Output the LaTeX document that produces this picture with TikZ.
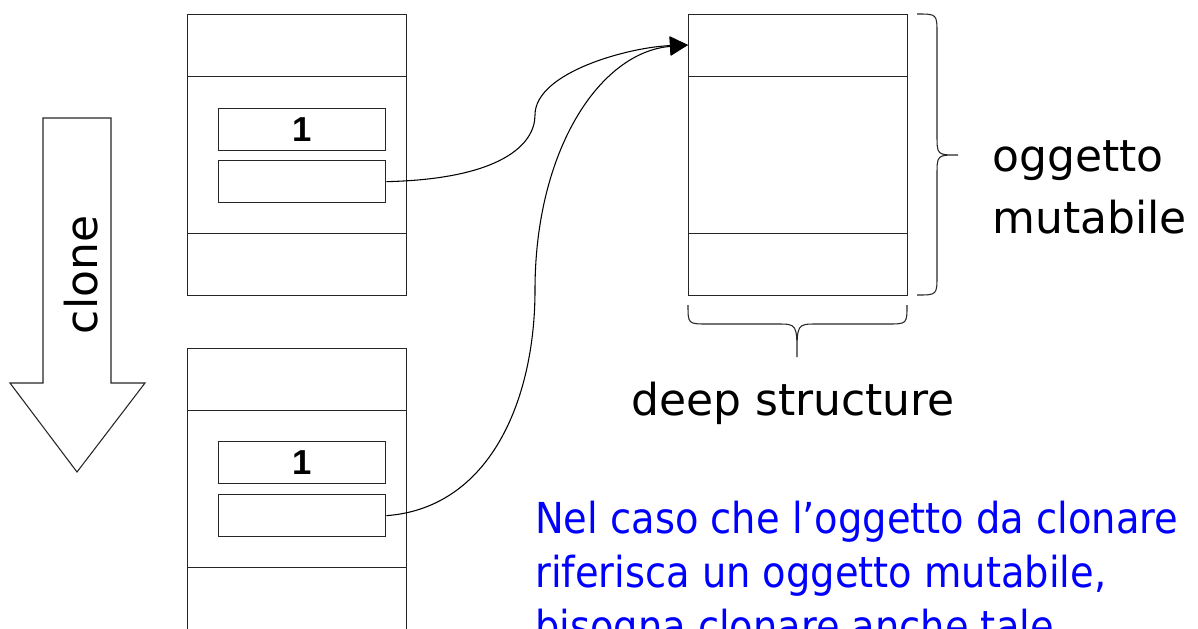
\documentclass[tikz,border=0pt]{standalone}
\usepackage{fontspec}
\setmainfont{DejaVu Sans}
\newfontfamily\notefont{DejaVu Sans Condensed}
\newfontfamily\numfont{Liberation Sans}
\usetikzlibrary{arrows.meta}
\def\px{0.75pt}
\tikzset{
  frame/.style={draw=black!85, line width=1pt, inner sep=0pt, anchor=north west},
  cell/.style={frame, minimum width=219*\px},
  field/.style={frame, minimum width=167*\px, minimum height=42*\px, font=\numfont\fontsize{26}{30}\selectfont\bfseries},
  link/.style={line width=0.8pt, -{Triangle[length=13.5pt,width=14pt]}},
  label/.style={font=\fontsize{33}{38}\selectfont, inner sep=0pt},
  note/.style={font=\notefont\fontsize{32}{40}\selectfont, text=blue, inner sep=0pt, anchor=base west},
  brace/.style={draw=black!85, line width=0.8pt}
}
\begin{document}
\begin{tikzpicture}[x=0.75pt, y=-0.75pt]
\useasboundingbox (0,0) rectangle (1198,628);
\clip (0,0) rectangle (1198,628);

% original object on the stack
\node[cell, minimum height=62*\px]  (a1) at (187,14)  {};
\node[cell, minimum height=157*\px] (a2) at (187,76)  {};
\node[cell, minimum height=62*\px]  (a3) at (187,233) {};
\node[field] (a1v) at (218,108) {1};
\node[field] (a1r) at (218,160) {};

% its clone
\node[cell, minimum height=62*\px]  (b1) at (187,348) {};
\node[cell, minimum height=157*\px] (b2) at (187,410) {};
\node[cell, minimum height=80*\px]  (b3) at (187,567) {};
\node[field] (b1v) at (218,441) {1};
\node[field] (b1r) at (218,494) {};

% referenced mutable object
\node[cell, minimum height=62*\px]  (m1) at (688,14)  {};
\node[cell, minimum height=157*\px] (m2) at (688,76)  {};
\node[cell, minimum height=62*\px]  (m3) at (688,233) {};
\coordinate (tgt) at (688,45);

% shared references
\draw[link] (a1r.east) .. controls (500,179) and (535,145) .. (535,115)
  .. controls (535,72) and (630,47) .. (tgt);
\draw[link] (b1r.east) .. controls (490,508) and (535,400) .. (535,290)
  .. controls (535,150) and (600,52) .. (tgt);

% clone arrow
\draw[draw=black!85, line width=0.8pt, fill=white]
  (43,118) -- (111,118) -- (111,383) -- (145,383) -- (77,472) -- (10,383) -- (43,383) -- cycle;
\node[label, rotate=90, anchor=base] (clonelbl) at (97,275) {clone};

% braces
\draw[brace] (917,14) .. controls (937,14) .. (937,34) -- (937,135)
  .. controls (937,155) .. (958,155) .. controls (937,155) .. (937,175)
  -- (937,275) .. controls (937,295) .. (917,295);
\draw[brace] (688,305) .. controls (688,324) .. (708,324) -- (777,324)
  .. controls (797,324) .. (797,357) .. controls (797,324) .. (817,324)
  -- (887,324) .. controls (907,324) .. (907,305);

\node[label, anchor=base west] (mut1) at (992,171) {oggetto};
\node[label, anchor=base west] (mut2) at (992,233) {mutabile};
\node[label, anchor=base] (deep) at (793,415) {deep structure};

\node[note] (n1) at (535,533) {Nel caso che l’oggetto da clonare};
\node[note] (n2) at (535,587) {riferisca un oggetto mutabile,};
\node[note] (n3) at (535,641) {bisogna clonare anche tale};
\end{tikzpicture}
\end{document}
